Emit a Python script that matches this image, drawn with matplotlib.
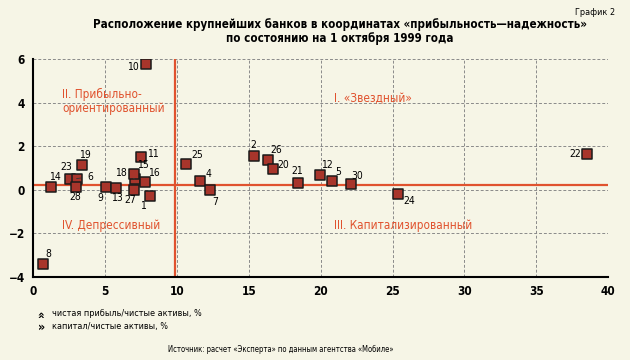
import matplotlib.pyplot as plt

# Данные: номер банка, капитал/чистые активы (%), чистая прибыль/чистые активы (%)
banks = [10, 19, 23, 6, 28, 14, 9, 13, 27, 1, 18, 15, 16, 11,
         25, 4, 7, 2, 26, 20, 21, 12, 5, 30, 24, 22, 8]
capital = [7.83, 3.42, 2.59, 3.03, 2.96, 1.23, 5.07, 5.78, 7.03, 8.13, 7.08, 7.03, 7.78, 7.5,
           10.63, 11.6, 12.3, 15.35, 16.34, 16.71, 18.4, 19.93, 20.76, 22.08, 25.37, 38.56, 0.69]
profit = [5.79, 1.15, 0.5, 0.51, 0.12, 0.12, 0.13, 0.1, 0.0, -0.27, 0.49, 0.71, 0.35, 1.52,
          1.2, 0.42, 0.0, 1.53, 1.36, 0.95, 0.33, 0.67, 0.38, 0.24, -0.18, 1.62, -3.42]

# средние значения (красные линии)
mean_capital = 9.9
mean_profit = 0.23

# смещения подписей в пикселях
offsets = {10: (-13, -3), 19: (3, 10), 23: (-4, 12), 6: (14, 2), 28: (0, -10),
           14: (4, 10), 9: (-6, -11), 13: (1, -10), 27: (-4, -10), 1: (-7, -10),
           18: (-14, 6), 15: (9, 9), 16: (9, 9), 11: (12, 3), 25: (11, 9),
           4: (9, 7), 7: (5, -12), 2: (0, 11), 26: (8, 10), 20: (10, 4),
           21: (0, 12), 12: (7, 10), 5: (7, 9), 30: (7, 8), 24: (11, -7),
           22: (-12, 0), 8: (5, 10)}
leaders = [6, 18]

bg = '#F6F5E6'
red = '#E0522E'
plt.rcParams['font.family'] = ['DejaVu Sans']
plt.rcParams['font.stretch'] = 'condensed'

fig = plt.figure(figsize=(6.3, 3.6), dpi=100, facecolor=bg)
ax = fig.add_axes([0.0524, 0.231, 0.913, 0.605], facecolor=bg)

ax.set_xlim(0, 40)
ax.set_ylim(-4, 6)
ax.set_xticks(range(0, 41, 5))
ax.set_yticks(range(-4, 7, 2))
ax.grid(True, linestyle=(0, (3, 2)), color='#8a8a8a', linewidth=0.7)
ax.set_axisbelow(True)
for s in ['top', 'right']:
    ax.spines[s].set_visible(False)
ax.spines['left'].set_linewidth(1.5)
ax.spines['bottom'].set_linewidth(1.5)
ax.tick_params(length=0, labelsize=8.5, pad=6)
for lab in ax.get_xticklabels() + ax.get_yticklabels():
    lab.set_fontweight('bold')

ax.axvline(mean_capital, color=red, linewidth=1.6, zorder=2)
ax.axhline(mean_profit, color=red, linewidth=1.6, zorder=2)

ax.scatter(capital, profit, marker='s', s=62, facecolor='#A8352B',
           edgecolor='#1a1a1a', linewidth=1.1, zorder=3)

for b, x, y in zip(banks, capital, profit):
    dx, dy = offsets[b]
    if b in leaders:
        ax.annotate(str(b), (x, y), xytext=(dx, dy), textcoords='offset pixels',
                    ha='center', va='center', fontsize=7.5, zorder=4,
                    arrowprops=dict(arrowstyle='-', color='#333333', lw=0.6,
                                    shrinkA=3, shrinkB=0))
    else:
        ax.annotate(str(b), (x, y), xytext=(dx, dy), textcoords='offset pixels',
                    ha='center', va='center', fontsize=7.5, zorder=4)

# названия квадрантов
ax.text(2.05, 4.05, 'II. Прибыльно-\nориентированный', color=red, fontsize=8.5,
        ha='left', va='center', linespacing=1.05)
ax.text(20.9, 4.2, 'I. «Звездный»', color=red, fontsize=8.5, ha='left', va='center')
ax.text(2.05, -1.65, 'IV. Депрессивный', color=red, fontsize=8.5, ha='left', va='center')
ax.text(20.9, -1.65, 'III. Капитализированный', color=red, fontsize=8.5, ha='left', va='center')

fig.text(0.976, 0.964, 'График 2', fontsize=6.5, ha='right', va='center')
fig.text(0.54, 0.9125, 'Расположение крупнейших банков в координатах «прибыльность—надежность»\n'
         'по состоянию на 1 октября 1999 года', fontsize=8.3, fontweight='bold',
         ha='center', va='center', linespacing=1.1)

fig.text(0.066, 1 - 313 / 360, '»', fontsize=9, fontweight='bold', rotation=90,
         ha='center', va='center')
fig.text(0.066, 1 - 327 / 360, '»', fontsize=9, fontweight='bold', ha='center', va='center')
fig.text(0.083, 1 - 313 / 360, 'чистая прибыль/чистые активы, %', fontsize=6.5,
         ha='left', va='center')
fig.text(0.083, 1 - 327 / 360, 'капитал/чистые активы, %', fontsize=6.5,
         ha='left', va='center')
fig.text(0.445, 1 - 349 / 360, 'Источник: расчет «Эксперта» по данным агентства «Мобиле»',
         fontsize=5.5, ha='center', va='center')

fig.savefig('out.png', dpi=100, facecolor=bg)
